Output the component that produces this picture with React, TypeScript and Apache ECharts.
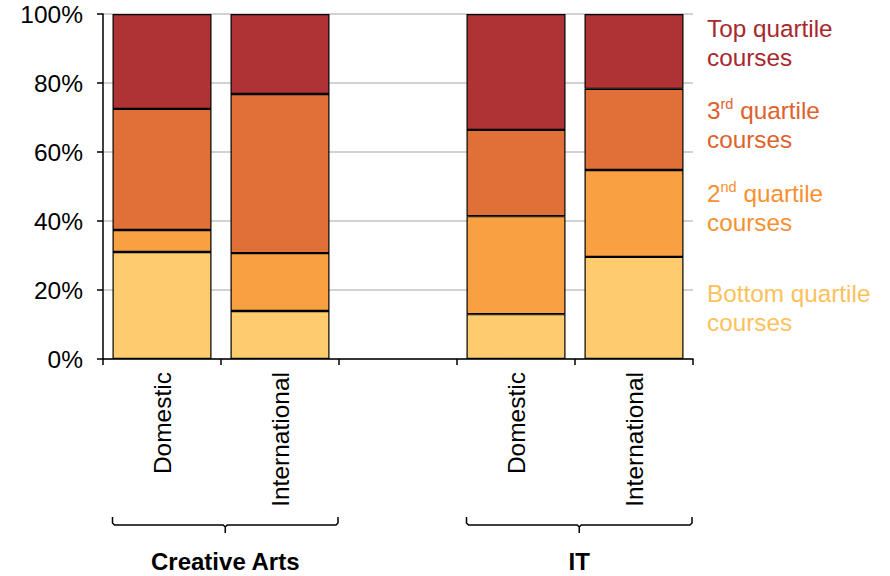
import React, { useEffect, useRef } from "react";
import * as echarts from "echarts";

const categories = ["Domestic", "International", "", "Domestic", "International"];
const bottomQuartile = [31.0, 13.9, null, 13.0, 29.6];
const secondQuartile = [6.4, 16.8, null, 28.4, 25.2];
const thirdQuartile = [35.1, 46.1, null, 25.0, 23.5];
const topQuartile = [27.5, 23.2, null, 33.6, 21.7];
const yTicks = [0, 20, 40, 60, 80, 100];
const groups = [
  { name: "Creative Arts", from: 0, to: 1 },
  { name: "IT", from: 3, to: 4 },
];

const FONT = "Liberation Sans, Arial, sans-serif";
const C_TOP = "#AF3234";
const C_3RD = "#E07038";
const C_2ND = "#F9A043";
const C_BOT = "#FECC6E";

export default function App() {
  const ref = useRef<HTMLDivElement>(null);
  useEffect(() => {
    if (!ref.current) return;
    const chart = echarts.init(ref.current, undefined, { renderer: "svg" });
    const barWidth = 99;
    const mkSeries = (name: string, data: (number | null)[], color: string) => ({
      name,
      type: "bar",
      stack: "total",
      data,
      barWidth,
      itemStyle: { color, borderColor: "#000", borderWidth: 1.2 },
    });
    chart.setOption({
      animation: false,
      textStyle: { fontFamily: FONT },
      grid: { left: 103, right: 197, top: 14, bottom: 217, containLabel: false },
      xAxis: {
        type: "category",
        data: categories,
        axisLine: { lineStyle: { color: "#000", width: 1.5 } },
        axisTick: { show: true, length: 6, lineStyle: { color: "#000", width: 1.5 } },
        axisLabel: {
          rotate: 90,
          margin: 13,
          fontSize: 24.5,
          color: "#000",
          fontFamily: FONT,
        },
      },
      yAxis: {
        type: "value",
        min: 0,
        max: 100,
        interval: 20,
        axisLine: { show: true, lineStyle: { color: "#000", width: 1.5 } },
        axisTick: { show: true, length: 6, lineStyle: { color: "#000", width: 1.5 } },
        splitLine: { show: true, lineStyle: { color: "#C0C4C8", width: 1.5 } },
        axisLabel: {
          margin: 20,
          fontSize: 24.5,
          color: "#000",
          fontFamily: FONT,
          formatter: (v: number) => (yTicks.includes(v) ? v + "%" : ""),
        },
      },
      series: [
        mkSeries("Bottom quartile courses", bottomQuartile, C_BOT),
        mkSeries("2nd quartile courses", secondQuartile, C_2ND),
        mkSeries("3rd quartile courses", thirdQuartile, C_3RD),
        mkSeries("Top quartile courses", topQuartile, C_TOP),
      ],
    });

    const catW = (chart.convertToPixel({ xAxisIndex: 0 }, 1) as number) -
      (chart.convertToPixel({ xAxisIndex: 0 }, 0) as number);
    const graphics: any[] = [];
    const yTop = 517;
    const yMid = 525;
    const yTip = 533;
    groups.forEach((g) => {
      const c0 = chart.convertToPixel({ xAxisIndex: 0 }, g.from) as number;
      const c1 = chart.convertToPixel({ xAxisIndex: 0 }, g.to) as number;
      const l = c0 - barWidth / 2;
      const r = c1 + catW / 2 - 1;
      const m = (l + r) / 2;
      graphics.push({
        type: "polyline",
        shape: {
          points: [
            [l, yTop], [l, yMid - 2], [l + 2, yMid], [m - 2, yMid], [m, yMid + 2], [m, yTip],
          ],
        },
        style: { stroke: "#000", lineWidth: 1.5, fill: null },
        silent: true,
      });
      graphics.push({
        type: "polyline",
        shape: {
          points: [
            [r, yTop], [r, yMid - 2], [r - 2, yMid], [m + 2, yMid], [m, yMid + 2],
          ],
        },
        style: { stroke: "#000", lineWidth: 1.5, fill: null },
        silent: true,
      });
      graphics.push({
        type: "text",
        x: m,
        y: 561,
        style: {
          text: g.name,
          fontFamily: FONT,
          fontSize: 24,
          fontWeight: "bold",
          fill: "#000",
          align: "center",
          verticalAlign: "middle",
        },
      });
    });

    const legendX = 707;
    const legendItems = [
      { y: 14, color: "#A8282D", text: "{a|Top quartile}\n{a|courses}" },
      { y: 96, color: "#DE622C", text: "{a|3}{s|rd}{a| quartile}\n{a|courses}" },
      { y: 179, color: "#F7912F", text: "{a|2}{s|nd}{a| quartile}\n{a|courses}" },
      { y: 279, color: "#FDC15B", text: "{a|Bottom quartile}\n{a|courses}" },
    ];
    legendItems.forEach((it) => {
      graphics.push({
        type: "text",
        x: legendX,
        y: it.y,
        style: {
          text: it.text,
          fontFamily: FONT,
          fill: it.color,
          align: "left",
          verticalAlign: "top",
          rich: {
            a: { fontSize: 24.3, lineHeight: 29, fontFamily: FONT, fill: it.color, color: it.color },
            s: {
              fontSize: 14.5,
              lineHeight: 29,
              fontFamily: FONT,
              fill: it.color,
              color: it.color,
              verticalAlign: "top",
            },
          },
        },
      });
    });
    chart.setOption({ graphic: graphics });

    return () => chart.dispose();
  }, []);
  return (
    <div
      ref={ref}
      style={{ position: "fixed", left: 0, top: 0, width: 890, height: 576, background: "#fff" }}
    />
  );
}
